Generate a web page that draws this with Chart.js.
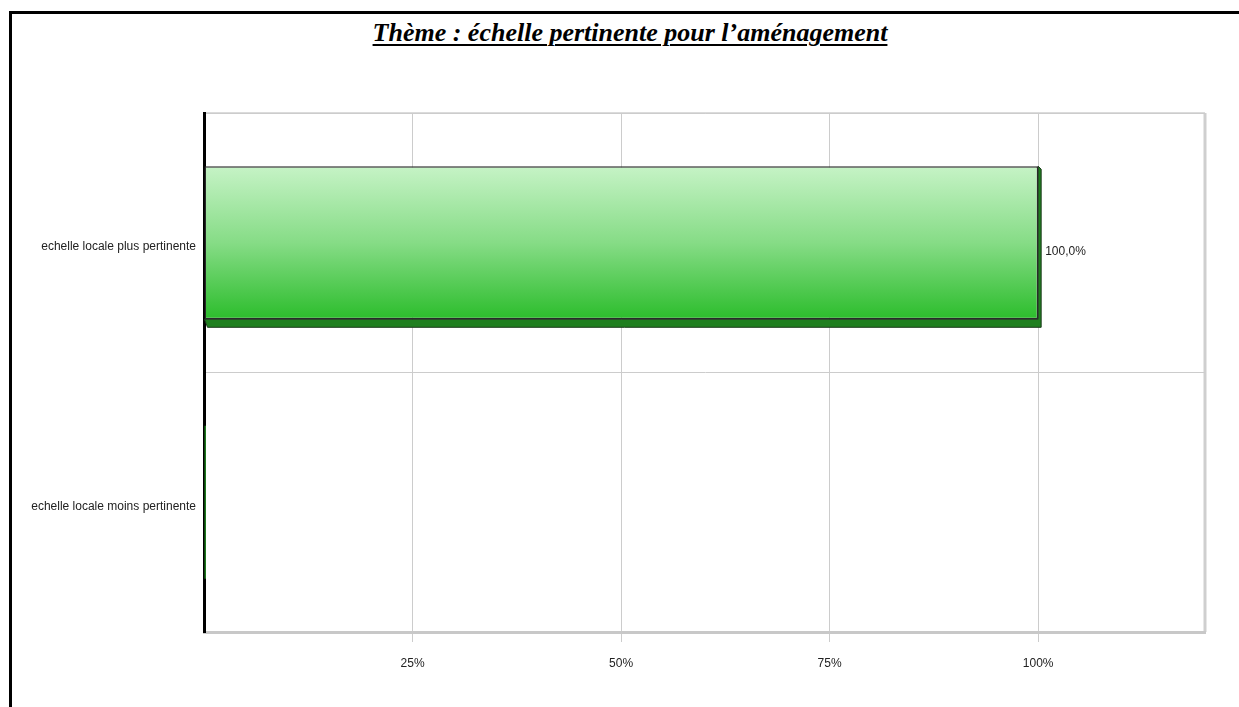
<!DOCTYPE html>
<html>
<head>
<meta charset="utf-8">
<script src="https://cdn.jsdelivr.net/npm/chart.js@4/dist/chart.umd.min.js"></script>
<style>
  html, body { margin:0; padding:0; background:#fff; overflow:hidden; }
  #frame { position:absolute; left:9px; top:11px; width:1400px; height:900px; border:3px solid #000; box-sizing:border-box; }
  #title { position:absolute; left:0; top:18px; width:1260px; text-align:center;
           font-family:"Liberation Serif","Times New Roman",serif; font-weight:bold; font-style:italic;
           font-size:26px; line-height:30px; text-decoration:underline; text-decoration-thickness:2px; text-underline-offset:3px; color:#000; }
  #c { position:absolute; left:0; top:0; }
</style>
</head>
<body>
<div id="frame"></div>
<div id="title">Thème : échelle pertinente pour l’aménagement</div>
<canvas id="c" width="1239" height="707"></canvas>
<script>
const categories = ["echelle locale plus pertinente", "echelle locale moins pertinente"];
const values = [100, 0];
const valueLabels = ["100,0%", ""];
const xTickValues = [0, 25, 50, 75, 100, 120];
const xTickLabels = ["", "25%", "50%", "75%", "100%", ""];

const sans = '"Liberation Sans",Arial,sans-serif';
const BAR_FRAC = 0.59;

function barGradient(context) {
  const chart = context.chart;
  const ys = chart.scales && chart.scales.y;
  if (!ys || !chart.chartArea) return '#55cc55';
  const v = context.raw;
  if (v === 0) return '#1e7a1e';
  const cy = ys.getPixelForValue(context.dataIndex);
  const half = (ys.height / categories.length) * BAR_FRAC / 2;
  const g = chart.ctx.createLinearGradient(0, cy - half, 0, cy + half);
  g.addColorStop(0, '#c6f3c6');
  g.addColorStop(0.5, '#86dc86');
  g.addColorStop(1, '#2cbd2c');
  return g;
}

const shadowPlugin = {
  id: 'shadow3d',
  beforeDatasetsDraw(chart) {
    const ctx = chart.ctx;
    const meta = chart.getDatasetMeta(0);
    meta.data.forEach((el, i) => {
      if (values[i] === 0) return;
      const p = el.getProps(['x', 'y', 'base', 'height'], true);
      const left = Math.min(p.x, p.base), right = Math.max(p.x, p.base);
      const top = p.y - p.height / 2, bot = p.y + p.height / 2;
      const dx = 3, dy = 8;
      ctx.save();
      ctx.fillStyle = '#1f7f1f';
      ctx.strokeStyle = '#1a3a1a';
      ctx.lineWidth = 1;
      ctx.beginPath();
      ctx.moveTo(right, top);
      ctx.lineTo(right + dx, top + dx);
      ctx.lineTo(right + dx, bot + dy);
      ctx.lineTo(left + dx, bot + dy);
      ctx.lineTo(left, bot);
      ctx.lineTo(right, bot);
      ctx.closePath();
      ctx.fill();
      ctx.stroke();
      ctx.restore();
    });
  },
  afterDatasetsDraw(chart) {
    const ctx = chart.ctx;
    const meta = chart.getDatasetMeta(0);
    ctx.save();
    ctx.font = '12px ' + sans;
    ctx.fillStyle = '#222';
    ctx.textBaseline = 'middle';
    ctx.textAlign = 'left';
    meta.data.forEach((el, i) => {
      if (!valueLabels[i]) return;
      const p = el.getProps(['x', 'y'], true);
      ctx.fillText(valueLabels[i], p.x + 7, p.y + 9);
    });
    ctx.restore();
  }
};

const framePlugin = {
  id: 'plotFrame',
  beforeDraw(chart) {
    const a = chart.chartArea;
    const ctx = chart.ctx;
    ctx.save();
    ctx.strokeStyle = '#cfcfcf';
    ctx.lineWidth = 1.5;
    ctx.beginPath();
    ctx.moveTo(a.left, a.top);
    ctx.lineTo(a.right, a.top);
    ctx.stroke();
    ctx.lineWidth = 3;
    ctx.beginPath();
    ctx.moveTo(a.right, a.top);
    ctx.lineTo(a.right, a.bottom);
    ctx.stroke();
    ctx.restore();
  }
};

new Chart(document.getElementById('c'), {
  type: 'bar',
  data: {
    labels: categories,
    datasets: [{
      data: values,
      backgroundColor: barGradient,
      borderColor: '#2a2a2a',
      borderWidth: (c) => (c.raw === 0 ? 0 : 1.5),
      borderSkipped: false,
      minBarLength: 2,
      categoryPercentage: BAR_FRAC,
      barPercentage: 1.0
    }]
  },
  options: {
    indexAxis: 'y',
    responsive: false,
    animation: false,
    events: [],
    layout: { padding: { top: 113, right: 34, left: 0, bottom: 0 } },
    plugins: { legend: { display: false }, tooltip: { enabled: false }, title: { display: false } },
    scales: {
      x: {
        type: 'linear',
        min: 0, max: 120,
        afterBuildTicks(scale) { scale.ticks = xTickValues.map(v => ({ value: v })); },
        afterFit(scale) { scale.height = 75; },
        ticks: {
          autoSkip: false,
          maxRotation: 0,
          padding: 14,
          color: '#222',
          font: { family: sans, size: 12 },
          callback: (v) => { const i = xTickValues.indexOf(v); return i >= 0 ? xTickLabels[i] : ''; }
        },
        grid: {
          color: (c) => (c.tick && (c.tick.value === 0 || c.tick.value === 120)) ? 'rgba(0,0,0,0)' : '#cccccc',
          lineWidth: 1,
          tickLength: 10,
          drawTicks: true
        },
        border: { color: '#c8c8c8', width: 3 }
      },
      y: {
        afterFit(scale) { scale.width = 204; },
        ticks: {
          padding: 8,
          labelOffset: 4,
          color: '#222',
          font: { family: sans, size: 12 }
        },
        grid: {
          offset: true,
          color: '#cccccc',
          lineWidth: 1,
          drawTicks: false
        },
        border: { color: '#000', width: 3 }
      }
    }
  },
  plugins: [framePlugin, shadowPlugin]
});
</script>
</body>
</html>
